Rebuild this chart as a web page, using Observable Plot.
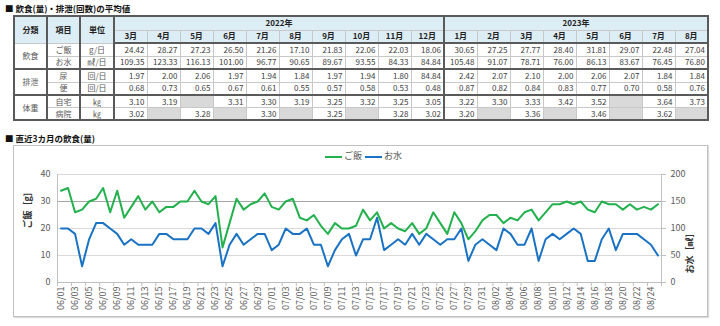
<!DOCTYPE html>
<html><head><meta charset="utf-8">
<script src="https://cdn.jsdelivr.net/npm/d3@7"></script>
<script src="https://cdn.jsdelivr.net/npm/@observablehq/plot@0.6"></script>
<style>
body{margin:0;width:720px;height:326px;background:#fff;font-family:"Noto Sans CJK JP",sans-serif;position:relative;overflow:hidden}
.title{position:absolute;left:5px;font-size:8.5px;font-weight:bold;color:#111;line-height:10px;white-space:nowrap}
table{position:absolute;left:13px;top:15px;border-collapse:collapse;table-layout:fixed;font-size:8px;color:#404040;border:2px solid #5a5a5a}
td,th{padding:0;border:1px solid #c8c8c8;line-height:10px;overflow:hidden;white-space:nowrap;box-sizing:border-box}
th{background:#ddedf5;font-weight:bold;color:#222;text-align:center}
td.v{text-align:right;padding-right:2px}
td.lab{text-align:center;color:#595959}
td.na{background:#d9d9d9}
.gt td{border-top:2px solid #5a5a5a}
.tl{border-left:2px solid #5a5a5a !important}
.hb th{border-bottom:2px solid #5a5a5a}
#frame{position:absolute;left:13px;top:145px;width:695px;height:172px;border:1px solid #c0c0c0;box-sizing:border-box;box-shadow:1px 1px 1px #ddd}
#chart{position:absolute;left:13px;top:145px}
.leg{position:absolute;font-size:9px;color:#595959;line-height:10px}
.legline{position:absolute;height:2px}
</style></head>
<body>
<div class="title" style="top:3px">■ 飲食(量)・排泄(回数)の平均値</div>
<table id="tbl"></table>
<div class="title" style="top:133px">■ 直近3カ月の飲食(量)</div>
<div id="frame"></div>
<div id="chart"></div>
<div class="legline" style="left:325px;top:156px;width:17px;background:#22b14c"></div>
<div class="leg" style="left:344px;top:151px">ご飯</div>
<div class="legline" style="left:365px;top:156px;width:17px;background:#1a72c4"></div>
<div class="leg" style="left:384px;top:151px">お水</div>
<script>
// ---- table data ----
const years = ["2022年", "2023年"];
const months2022 = ["3月","4月","5月","6月","7月","8月","9月","10月","11月","12月"];
const months2023 = ["1月","2月","3月","4月","5月","6月","7月","8月"];
const groups = ["飲食","排泄","体重"];
const items = ["ご飯","お水","尿","便","自宅","病院"];
const units = ["g/日","㎖/日","回/日","回/日","㎏","㎏"];
const riceAvg = [24.42,28.27,27.23,26.50,21.26,17.10,21.83,22.06,22.03,18.06,30.65,27.25,27.77,28.40,31.81,29.07,22.48,27.04];
const waterAvg = [109.35,123.33,116.13,101.00,96.77,90.65,89.67,93.55,84.33,84.84,105.48,91.07,78.71,76.00,86.13,83.67,76.45,76.80];
const urineAvg = [1.97,2.00,2.06,1.97,1.94,1.84,1.97,1.94,1.80,84.84,2.42,2.07,2.10,2.00,2.06,2.07,1.84,1.84];
const stoolAvg = [0.68,0.73,0.65,0.67,0.61,0.55,0.57,0.58,0.53,0.48,0.87,0.82,0.84,0.83,0.77,0.70,0.58,0.76];
const weightHome = [3.10,3.19,null,3.31,3.30,3.19,3.25,3.32,3.25,3.05,3.22,3.30,3.33,3.42,3.52,null,3.64,3.73];
const weightHospital = [3.02,null,3.28,null,3.30,null,3.25,null,3.28,3.02,3.20,null,3.36,null,3.46,null,3.62,null];

// ---- daily chart data ----
const dates = ["06/01","06/02","06/03","06/04","06/05","06/06","06/07","06/08","06/09","06/10","06/11","06/12","06/13","06/14","06/15","06/16","06/17","06/18","06/19","06/20","06/21","06/22","06/23","06/24","06/25","06/26","06/27","06/28","06/29","06/30",
"07/01","07/02","07/03","07/04","07/05","07/06","07/07","07/08","07/09","07/10","07/11","07/12","07/13","07/14","07/15","07/16","07/17","07/18","07/19","07/20","07/21","07/22","07/23","07/24","07/25","07/26","07/27","07/28","07/29","07/30","07/31",
"08/01","08/02","08/03","08/04","08/05","08/06","08/07","08/08","08/09","08/10","08/11","08/12","08/13","08/14","08/15","08/16","08/17","08/18","08/19","08/20","08/21","08/22","08/23","08/24","08/25"];
const riceDaily = [34,35,26,27,30,31,35,26,34,24,28,32,27,30,26,28,28,30,30,34,30,29,32,13,22,31,27,29,30,33,
28,27,30,31,24,23,25,21,18,22,20,20,21,27,23,26,20,22,20,19,22,18,20,26,22,18,26,22,16,19,23,
25,25,22,24,23,26,27,23,26,29,29,30,29,30,27,26,30,29,29,27,29,27,28,27,29];
const waterDaily = [100,100,90,30,80,110,110,100,90,70,80,70,70,70,90,90,80,80,80,100,100,90,110,30,70,90,70,80,90,90,
60,70,100,90,90,100,70,70,30,60,80,90,50,80,80,120,60,70,80,70,90,70,90,80,70,80,80,100,40,70,80,
70,60,100,90,70,70,100,40,80,90,80,90,100,90,40,40,80,100,60,90,90,90,80,70,50];
const leftTicks = [0,10,20,30,40];
const waterPerRice = 5; // right axis (0-200) over left axis (0-40)

// ---- build table ----
const tbl = document.getElementById("tbl");
const colW = [33,33,34].concat(Array(months2022.length + months2023.length).fill(33));
let html = "<colgroup>" + colW.map(w => `<col style="width:${w}px">`).join("") + "</colgroup>";
html += `<tr style="height:14px"><th rowspan="2">分類</th><th rowspan="2" class="tl">項目</th><th rowspan="2" class="tl">単位</th>`
  + `<th colspan="${months2022.length}" class="tl">${years[0]}</th><th colspan="${months2023.length}" class="tl">${years[1]}</th></tr>`;
html += `<tr class="hb" style="height:13px">` + months2022.map((m,i)=>`<th${i===0?' class="tl"':''}>${m}</th>`).join("")
  + months2023.map((m,i)=>`<th${i===0?' class="tl"':''}>${m}</th>`).join("") + "</tr>";
const series = [riceAvg, waterAvg, urineAvg, stoolAvg, weightHome, weightHospital];
series.forEach((vals, r) => {
  const h = r >= 4 ? 12.5 : 13;
  let row = `<tr${r===2||r===4?' class="gt"':''} style="height:${h}px">`;
  if (r % 2 === 0) row += `<td rowspan="2" class="lab">${groups[r/2]}</td>`;
  row += `<td class="lab tl">${items[r]}</td><td class="lab tl">${units[r]}</td>`;
  vals.forEach((v, i) => {
    const cls = (v == null ? "na" : "v") + (i === 0 || i === months2022.length ? " tl" : "");
    row += `<td class="${cls}">${v == null ? "" : v.toFixed(2)}</td>`;
  });
  tbl.innerHTML; html += row + "</tr>";
});
tbl.innerHTML = html;

// ---- chart ----
const rows = dates.map((d, i) => ({i, date: d, rice: riceDaily[i], water: waterDaily[i]}));
const green = "#22b14c", blue = "#1a72c4";
const chart = Plot.plot({
  width: 695, height: 172,
  marginLeft: 44, marginRight: 47, marginTop: 29, marginBottom: 35,
  style: {fontFamily: '"Noto Sans CJK JP", sans-serif', fontSize: "9px", color: "#595959", background: "transparent", overflow: "visible"},
  x: {type: "linear", domain: [-0.5, dates.length - 0.5]},
  y: {domain: [0, 40]},
  marks: [
    Plot.ruleY([10, 20, 40], {stroke: "#d9d9d9"}),
    Plot.ruleY([30], {stroke: "#a6a6a6"}),
    Plot.ruleY([0], {stroke: "#bfbfbf"}),
    Plot.ruleX([-0.5, dates.length - 0.5], {stroke: "#bfbfbf"}),
    Plot.axisY({anchor: "left", ticks: leftTicks, tickSize: 0, tickPadding: 7, label: null}),
    Plot.axisY({anchor: "right", ticks: leftTicks, tickFormat: d => d * waterPerRice, tickSize: 4, tickPadding: 5, stroke: "#bfbfbf", label: null}),
    Plot.axisX({ticks: d3.range(-0.5, dates.length, 2), tickSize: 4, stroke: "#bfbfbf", tickFormat: () => "", label: null}),
    Plot.axisX({ticks: d3.range(0, dates.length, 2), tickSize: 0, tickPadding: 4, tickRotate: -90, tickFormat: i => dates[i], label: null}),
    Plot.text(["ご飯［g］"], {frameAnchor: "left", dx: -29, rotate: -90, fontWeight: "bold", fill: "#333", fontSize: 9}),
    Plot.text(["お水［㎖］"], {frameAnchor: "right", dx: 29, rotate: -90, fontWeight: "bold", fill: "#333", fontSize: 9}),
    Plot.line(rows, {x: "i", y: "rice", stroke: green, strokeWidth: 2}),
    Plot.line(rows, {x: "i", y: d => d.water / waterPerRice, stroke: blue, strokeWidth: 2})
  ]
});
document.getElementById("chart").appendChild(chart);
</script>
</body></html>
